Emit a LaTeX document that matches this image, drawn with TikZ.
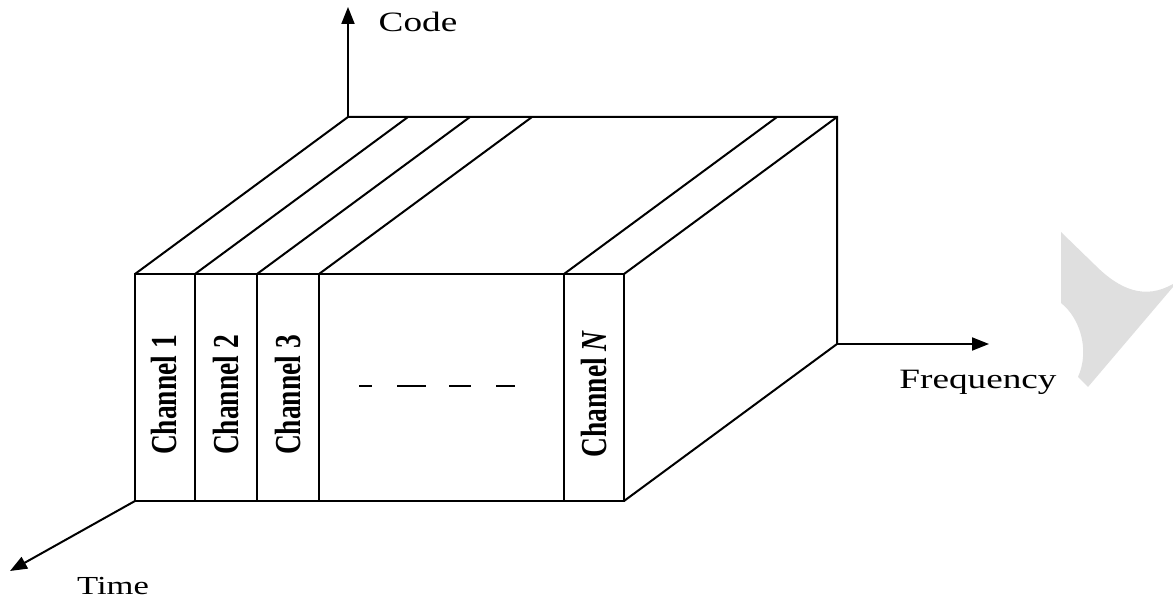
\documentclass[tikz,border=0pt]{standalone}
\usepackage{fontspec}
\setmainfont{Liberation Serif}
\usetikzlibrary{arrows.meta}
\definecolor{wmark}{HTML}{DFDFDF}
\begin{document}
\begin{tikzpicture}[x=1pt,y=-1pt,
  edge/.style={draw=black, line width=2pt, line join=miter},
  axis/.style={draw=black, line width=2pt, -{Triangle[length=17pt,width=13pt]}},
  chlabel/.style={rotate=90, inner sep=0pt, font=\bfseries\fontsize{27.5}{30}\selectfont},
  axlabel/.style={inner sep=0pt, font=\fontsize{28}{30}\selectfont},
  dotsline/.style={draw=black, line width=1.4pt, dash pattern=on 13pt off 25pt on 29pt off 23pt on 22pt off 25pt on 19pt off 100pt}]
\useasboundingbox (0,0) rectangle (1173,601);
% watermark
\fill[wmark] (1061,232) -- (1095,265) .. controls (1120,290) and (1145,300) .. (1173,284)
  -- (1173,287) -- (1088,387) -- (1078,377)
  .. controls (1090,350) and (1080,318) .. (1061,303) -- cycle;
% corners
\foreach \n/\x in {a/135,b/195,c/257,d/319,e/564,f/624} {
  \coordinate (ft\n) at (\x,274);
  \coordinate (bt\n) at (\x+213,117);
  \coordinate (fb\n) at (\x,501);
}
\coordinate (brb) at (837,344);
\coordinate (codetip) at (348,7);
\coordinate (freqtip) at (989,344);
\coordinate (timetip) at (10,571);
% box
\draw[edge] (fta) -- (ftf) -- (fbf) -- (fba) -- cycle;
\foreach \n in {b,c,d,e} { \draw[edge] (ft\n) -- (fb\n); }
\foreach \n in {a,b,c,d,e,f} { \draw[edge] (ft\n) -- (bt\n); }
\draw[edge] (bta) -- (btf) -- (brb) -- (fbf);
% axes
\draw[axis] (bta) -- (codetip);
\draw[axis] (brb) -- (freqtip);
\draw[axis] (fba) -- (timetip);
% labels
\node[axlabel] (code) at (418,22) {\scalebox{1.33}[1]{Code}};
\node[axlabel] (freq) at (978,382) {\scalebox{1.33}[1]{Frequency}};
\node[axlabel,font=\fontsize{26}{28}\selectfont] (time) at (113,586) {\scalebox{1.33}[1]{Time}};
\node[chlabel] (ch1) at (164,395) {\scalebox{1}[1.33]{Channel 1}};
\node[chlabel] (ch2) at (226,395) {\scalebox{1}[1.33]{Channel 2}};
\node[chlabel] (ch3) at (288,395) {\scalebox{1}[1.33]{Channel 3}};
\node[chlabel] (chN) at (594,394) {\scalebox{1}[1.33]{Channel \textit{N}}};
% dashes
\coordinate (dl) at (359,386);
\coordinate (dr) at (515,386);
\draw[dotsline] (dl) -- (dr);
\end{tikzpicture}
\end{document}
